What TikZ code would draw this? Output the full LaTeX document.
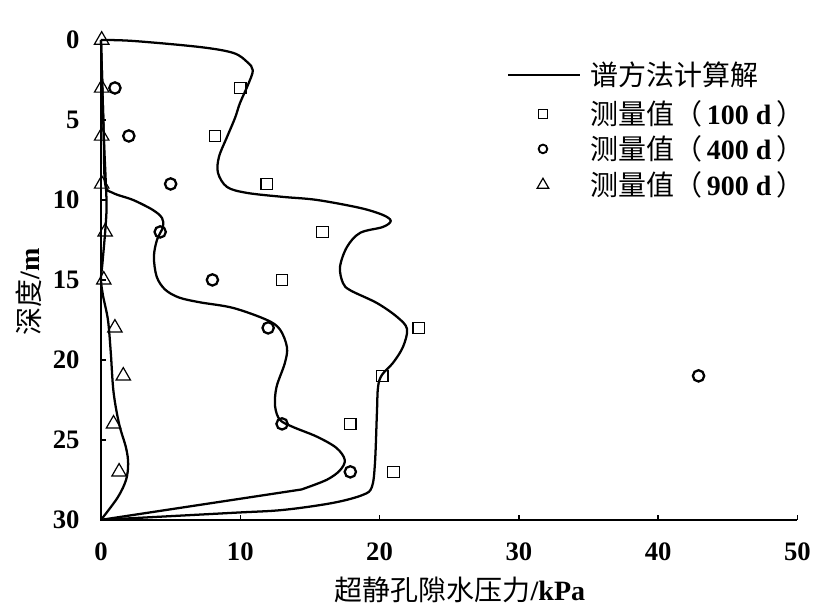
\documentclass[tikz,border=0pt]{standalone}
\usepackage{fontspec}
\setmainfont{Liberation Serif}
\newfontfamily\cjk{Noto Sans CJK SC}
\usetikzlibrary{shapes.geometric}

\tikzset{
  sqmark/.style={draw, rectangle, line width=0.9pt, minimum size=8.5pt, inner sep=0pt},
  circmark/.style={draw, circle, line width=1.7pt, minimum size=8.5pt, inner sep=0pt},
  trimark/.style={draw, regular polygon, regular polygon sides=3, line width=0.9pt, minimum size=12.5pt, inner sep=0pt},
  curve/.style={line width=1.7pt},
  lbl/.style={font=\fontsize{20}{24}\selectfont\bfseries},
  cjklbl/.style={font=\fontsize{21}{25}\selectfont\bfseries, inner sep=0pt},
}
\newcommand{\zh}[1]{{\cjk\mdseries #1}}

\begin{document}
\begin{tikzpicture}[x=10.45pt, y=-12pt]
  \useasboundingbox (-7.25,-2.5) rectangle (52.84,35.81);

  % axes
  \draw[line width=1.8pt] (0,0) -- (0,30) -- (50,30);
  \foreach \x in {10,20,...,50}
    \draw[line width=1pt] (\x,30) -- ++(0,-0.32);
  \foreach \y in {5,10,...,25}
    \draw[line width=1pt] (0,\y) -- ++(0.36,0);
  \foreach \x in {0,10,...,50}
    \node[lbl] (xt\x) at (\x,32) {\x};
  \foreach \y in {0,5,...,30}
    \node[lbl, anchor=east] (yt\y) at (-1.2,\y) {\y};
  \node[cjklbl] (xlab) at (25.77,34.375) {\zh{超静孔隙水压力}/kPa};
  \node[cjklbl, rotate=90] (ylab) at (-5.17,15.75) {\zh{深度}/m};

  % 100 d
  \draw[curve] plot[smooth, tension=0.55] coordinates {(0,0) (2.3,0.06) (7.1,0.44) (9.5,0.81)
    (10.5,1.38) (10.9,1.9) (10.55,2.81) (9.98,3.94) (9.62,4.88) (9.05,6.06) (8.47,7.31)
    (8.4,8.31) (9.05,9.19) (10.48,9.56) (13.07,9.81) (15.5,10.0) (18.6,10.5) (20.24,10.94)
    (20.8,11.31) (20.24,11.69) (18.6,12.06) (17.66,12.94) (17.16,14.19) (17.37,15.19)
    (17.9,15.65) (19.8,16.44) (21.25,17.31) (21.97,18.06) (21.68,19.19) (20.96,20.19)
    (20.17,20.94) (19.89,21.69) (19.81,23.31) (19.67,26.44) (19.45,27.94) (18.8,28.44)
    (16.65,28.94) (13.07,29.38) (9.48,29.56) (0,30)};
  % 400 d
  \draw[curve] plot[smooth, tension=0.55] coordinates {(0,0) (0.1,3) (0.2,6) (0.3,9)
    (0.86,9.56) (2.3,10.0) (3.73,10.63) (4.38,11.13) (4.45,11.69) (4.02,12.5) (3.8,13.56)
    (4.0,14.8) (4.6,15.6) (5.6,16.1) (7.1,16.4) (9.48,16.75) (11.9,17.5) (12.85,18.1)
    (13.35,19.2) (13.2,20.2) (12.6,21.7) (12.5,22.9) (12.85,23.75) (13.8,24.2) (15.5,24.8)
    (16.9,25.5) (17.5,26.25) (17.16,26.9) (16.2,27.5) (14.4,28.1)} -- (0,30);
  % 900 d
  \draw[curve] plot[smooth, tension=0.55] coordinates {(0,0) (0.1,3) (0.2,6) (0.35,9)
    (0.4,10.5) (0.3,12) (0.1,14) (0,15) (0.15,16) (0.5,17.5) (0.7,19.5) (0.9,22) (1.3,24)
    (1.8,25.5) (1.95,26.5) (1.8,27.5) (1.2,28.6) (0,30)};

  % measured
  \foreach \p [count=\i] in {(10,3),(8.2,6),(11.9,9),(15.9,12),(13,15),(22.8,18),(20.2,21),(17.9,24),(21,27)}
    \node[sqmark] (sq\i) at \p {};
  \foreach \p [count=\i] in {(1,3),(2,6),(5,9),(4.25,12),(8,15),(12,18),(42.9,21),(13,24),(17.9,27)}
    \node[circmark] (ci\i) at \p {};
  \foreach \p [count=\i] in {(0.05,0),(0.05,3),(0.05,6),(0.05,9),(0.3,12),(0.2,15),(1,18),(1.6,21),(0.9,24),(1.3,27)}
    \node[trimark] (tr\i) at \p {};

  % legend
  \coordinate (leg0) at (29.22,2.19);
  \coordinate (leg1) at (34.39,2.19);
  \draw[curve] (leg0) -- (leg1);
  \node[cjklbl, anchor=west] (legc) at (35.1,2.19) {\zh{谱方法计算解}};
  \node[sqmark, minimum size=7pt] (legsq) at (31.73,4.63) {};
  \node[circmark, minimum size=6.5pt, line width=1.4pt] (legci) at (31.73,6.81) {};
  \node[trimark, minimum size=10pt] (legtr) at (31.73,9.06) {};
  \node[cjklbl, anchor=west] (leg100) at (legc.west |- legsq) {\zh{测量值（}\,100 d\,\zh{）}};
  \node[cjklbl, anchor=west] (leg400) at (legc.west |- legci) {\zh{测量值（}\,400 d\,\zh{）}};
  \node[cjklbl, anchor=west] (leg900) at (legc.west |- legtr) {\zh{测量值（}\,900 d\,\zh{）}};
\end{tikzpicture}
\end{document}
